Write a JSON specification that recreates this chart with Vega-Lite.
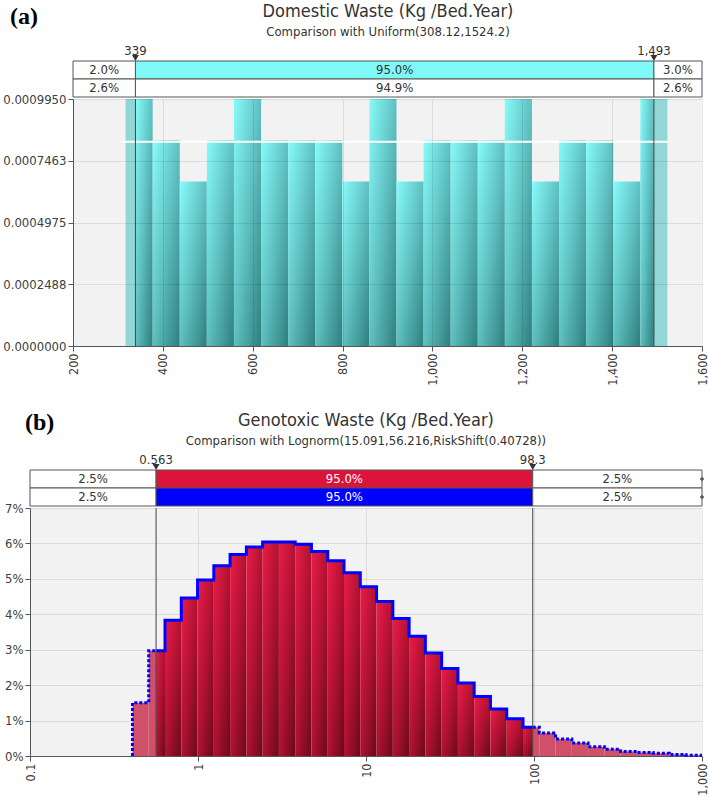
{
 "$schema": "https://vega.github.io/schema/vega-lite/v6.json",
 "background": "white",
 "padding": {"left": 2, "top": 3, "right": 0, "bottom": 0},
 "config": {
  "font": "DejaVu Sans Condensed",
  "view": {"stroke": null, "fill": null},
  "axis": {"labelColor": "#404040", "labelFontSize": 13, "labelFont": "DejaVu Sans Condensed", "domainColor": "#555555", "tickColor": "#555555", "gridColor": "#000000", "gridOpacity": 0.09, "tickSize": 5, "labelPadding": 2},
  "axisX": {"labelFontSize": 12.5},
  "title": {"font": "DejaVu Sans Condensed", "subtitleFont": "DejaVu Sans Condensed", "color": "#333333", "subtitleColor": "#333333", "fontWeight": "normal", "fontSize": 18, "subtitleFontSize": 13, "subtitlePadding": 5}
 },
 "datasets": {
  "bandA": [
   {"row": "r1", "x0": 200, "x1": 339, "xm": 269.5, "label": "2.0%", "cat": "w"},
   {"row": "r1", "x0": 339, "x1": 1493, "xm": 916, "label": "95.0%", "cat": "c"},
   {"row": "r1", "x0": 1493, "x1": 1600, "xm": 1546.5, "label": "3.0%", "cat": "w"},
   {"row": "r2", "x0": 200, "x1": 339, "xm": 269.5, "label": "2.6%", "cat": "w"},
   {"row": "r2", "x0": 339, "x1": 1493, "xm": 916, "label": "94.9%", "cat": "w"},
   {"row": "r2", "x0": 1493, "x1": 1600, "xm": 1546.5, "label": "2.6%", "cat": "w"}
  ],
  "markA": [{"x0": 339, "d": 0.000995, "lab": "339"}, {"x0": 1493, "d": 0.000995, "lab": "1,493"}],
  "histA": [
   {"x0": 317, "x1": 339, "d": 0.000995, "h": true},
   {"x0": 339, "x1": 377.3, "d": 0.000995},
   {"x0": 377.3, "x1": 437.6, "d": 0.000829},
   {"x0": 437.6, "x1": 497.9, "d": 0.000663},
   {"x0": 497.9, "x1": 558.2, "d": 0.000829},
   {"x0": 558.2, "x1": 618.5, "d": 0.000995},
   {"x0": 618.5, "x1": 678.8, "d": 0.000829},
   {"x0": 678.8, "x1": 739.1, "d": 0.000829},
   {"x0": 739.1, "x1": 799.4, "d": 0.000829},
   {"x0": 799.4, "x1": 859.7, "d": 0.000663},
   {"x0": 859.7, "x1": 920, "d": 0.000995},
   {"x0": 920, "x1": 980.3, "d": 0.000663},
   {"x0": 980.3, "x1": 1040.6, "d": 0.000829},
   {"x0": 1040.6, "x1": 1100.9, "d": 0.000829},
   {"x0": 1100.9, "x1": 1161.2, "d": 0.000829},
   {"x0": 1161.2, "x1": 1221.5, "d": 0.000995},
   {"x0": 1221.5, "x1": 1281.8, "d": 0.000663},
   {"x0": 1281.8, "x1": 1342.1, "d": 0.000829},
   {"x0": 1342.1, "x1": 1402.4, "d": 0.000829},
   {"x0": 1402.4, "x1": 1462.7, "d": 0.000663},
   {"x0": 1462.7, "x1": 1493, "d": 0.000995},
   {"x0": 1493, "x1": 1523, "d": 0.000995, "h": true}
  ],
  "bandB": [
   {"row": "r1", "x0": 0.1, "x1": 0.563, "xm": 0.2373, "label": "2.5%", "cat": "w"},
   {"row": "r1", "x0": 0.563, "x1": 98.3, "xm": 7.439, "label": "95.0%", "cat": "r"},
   {"row": "r1", "x0": 98.3, "x1": 1000, "xm": 313.5, "label": "2.5%", "cat": "w"},
   {"row": "r2", "x0": 0.1, "x1": 0.563, "xm": 0.2373, "label": "2.5%", "cat": "w"},
   {"row": "r2", "x0": 0.563, "x1": 98.3, "xm": 7.439, "label": "95.0%", "cat": "b"},
   {"row": "r2", "x0": 98.3, "x1": 1000, "xm": 313.5, "label": "2.5%", "cat": "w"}
  ],
  "markB": [{"x0": 0.563, "p": 7, "lab": "0.563"}, {"x0": 98.3, "p": 7, "lab": "98.3"}],
  "histB": [
   {"x0": 0.4073, "x1": 0.5089, "p": 1.50, "h": true},
   {"x0": 0.5089, "x1": 0.563, "p": 2.97, "h": true},
   {"x0": 0.563, "x1": 0.6362, "p": 2.97},
   {"x0": 0.6362, "x1": 0.7953, "p": 3.83},
   {"x0": 0.7953, "x1": 0.9939, "p": 4.46},
   {"x0": 0.9939, "x1": 1.2423, "p": 4.97},
   {"x0": 1.2423, "x1": 1.5526, "p": 5.37},
   {"x0": 1.5526, "x1": 1.9411, "p": 5.69},
   {"x0": 1.9411, "x1": 2.4253, "p": 5.90},
   {"x0": 2.4253, "x1": 3.0314, "p": 6.04},
   {"x0": 3.0314, "x1": 3.7888, "p": 6.04},
   {"x0": 3.7888, "x1": 4.7354, "p": 5.98},
   {"x0": 4.7354, "x1": 5.9186, "p": 5.77},
   {"x0": 5.9186, "x1": 7.3974, "p": 5.51},
   {"x0": 7.3974, "x1": 9.2458, "p": 5.17},
   {"x0": 9.2458, "x1": 11.556, "p": 4.78},
   {"x0": 11.556, "x1": 14.443, "p": 4.36},
   {"x0": 14.443, "x1": 18.052, "p": 3.88},
   {"x0": 18.052, "x1": 22.561, "p": 3.38},
   {"x0": 22.561, "x1": 28.199, "p": 2.91},
   {"x0": 28.199, "x1": 35.245, "p": 2.47},
   {"x0": 35.245, "x1": 44.052, "p": 2.06},
   {"x0": 44.052, "x1": 55.058, "p": 1.68},
   {"x0": 55.058, "x1": 68.814, "p": 1.33},
   {"x0": 68.814, "x1": 86.008, "p": 1.05},
   {"x0": 86.008, "x1": 98.3, "p": 0.81},
   {"x0": 98.3, "x1": 107.5, "p": 0.81, "h": true},
   {"x0": 107.5, "x1": 134.36, "p": 0.65, "h": true},
   {"x0": 134.36, "x1": 167.93, "p": 0.48, "h": true},
   {"x0": 167.93, "x1": 209.88, "p": 0.37, "h": true},
   {"x0": 209.88, "x1": 262.32, "p": 0.26, "h": true},
   {"x0": 262.32, "x1": 327.87, "p": 0.19, "h": true},
   {"x0": 327.87, "x1": 409.79, "p": 0.13, "h": true},
   {"x0": 409.79, "x1": 512.18, "p": 0.10, "h": true},
   {"x0": 512.18, "x1": 640.15, "p": 0.08, "h": true},
   {"x0": 640.15, "x1": 800.09, "p": 0.04, "h": true},
   {"x0": 800.09, "x1": 1000, "p": 0.02, "h": true}
  ],
  "lineB": [
   {"i": 0, "x0": 0.4073, "p": 0, "seg": "h1"},
   {"i": 1, "x0": 0.4073, "p": 1.50, "seg": "h1"},
   {"i": 2, "x0": 0.5089, "p": 2.97, "seg": "h1"},
   {"i": 3, "x0": 0.563, "p": 2.97, "seg": "h1"},
   {"i": 4, "x0": 0.563, "p": 2.97, "seg": "s"},
   {"i": 5, "x0": 0.6362, "p": 3.83, "seg": "s"},
   {"i": 6, "x0": 0.7953, "p": 4.46, "seg": "s"},
   {"i": 7, "x0": 0.9939, "p": 4.97, "seg": "s"},
   {"i": 8, "x0": 1.2423, "p": 5.37, "seg": "s"},
   {"i": 9, "x0": 1.5526, "p": 5.69, "seg": "s"},
   {"i": 10, "x0": 1.9411, "p": 5.90, "seg": "s"},
   {"i": 11, "x0": 2.4253, "p": 6.04, "seg": "s"},
   {"i": 12, "x0": 3.0314, "p": 6.04, "seg": "s"},
   {"i": 13, "x0": 3.7888, "p": 5.98, "seg": "s"},
   {"i": 14, "x0": 4.7354, "p": 5.77, "seg": "s"},
   {"i": 15, "x0": 5.9186, "p": 5.51, "seg": "s"},
   {"i": 16, "x0": 7.3974, "p": 5.17, "seg": "s"},
   {"i": 17, "x0": 9.2458, "p": 4.78, "seg": "s"},
   {"i": 18, "x0": 11.556, "p": 4.36, "seg": "s"},
   {"i": 19, "x0": 14.443, "p": 3.88, "seg": "s"},
   {"i": 20, "x0": 18.052, "p": 3.38, "seg": "s"},
   {"i": 21, "x0": 22.561, "p": 2.91, "seg": "s"},
   {"i": 22, "x0": 28.199, "p": 2.47, "seg": "s"},
   {"i": 23, "x0": 35.245, "p": 2.06, "seg": "s"},
   {"i": 24, "x0": 44.052, "p": 1.68, "seg": "s"},
   {"i": 25, "x0": 55.058, "p": 1.33, "seg": "s"},
   {"i": 26, "x0": 68.814, "p": 1.05, "seg": "s"},
   {"i": 27, "x0": 86.008, "p": 0.81, "seg": "s"},
   {"i": 28, "x0": 98.3, "p": 0.81, "seg": "s"},
   {"i": 29, "x0": 98.3, "p": 0.81, "seg": "h2"},
   {"i": 30, "x0": 107.5, "p": 0.65, "seg": "h2"},
   {"i": 31, "x0": 134.36, "p": 0.48, "seg": "h2"},
   {"i": 32, "x0": 167.93, "p": 0.37, "seg": "h2"},
   {"i": 33, "x0": 209.88, "p": 0.26, "seg": "h2"},
   {"i": 34, "x0": 262.32, "p": 0.19, "seg": "h2"},
   {"i": 35, "x0": 327.87, "p": 0.13, "seg": "h2"},
   {"i": 36, "x0": 409.79, "p": 0.10, "seg": "h2"},
   {"i": 37, "x0": 512.18, "p": 0.08, "seg": "h2"},
   {"i": 38, "x0": 640.15, "p": 0.04, "seg": "h2"},
   {"i": 39, "x0": 800.09, "p": 0.02, "seg": "h2"},
   {"i": 40, "x0": 1000, "p": 0.02, "seg": "h2"}
  ]
 },
 "spacing": 25,
 "vconcat": [
  {
   "title": {"text": "(a)", "anchor": "start", "frame": "group", "font": "Liberation Serif", "fontWeight": "bold", "fontSize": 24, "color": "#000000", "offset": -26, "dx": -20},
   "spacing": 2,
   "bounds": "flush",
   "vconcat": [
    {
     "width": 672, "height": 54,
     "title": {"text": "Domestic Waste (Kg /Bed.Year)", "subtitle": "Comparison with Uniform(308.12,1524.2)", "anchor": "middle", "frame": "group", "dx": 22, "offset": 4},
     "encoding": {
      "x": {"field": "x0", "type": "quantitative", "scale": {"domain": [200, 1600], "range": [43, 672], "nice": false, "zero": false}, "axis": null}
     },
     "layer": [
      {"data": {"name": "bandA"}, "mark": {"type": "rect", "stroke": "#555555", "strokeWidth": 1},
       "encoding": {
        "x2": {"field": "x1"},
        "y": {"field": "row", "type": "nominal", "scale": {"type": "band", "domain": ["m", "r1", "r2"], "paddingInner": 0, "paddingOuter": 0}, "axis": null},
        "fill": {"field": "cat", "type": "nominal", "scale": {"domain": ["w", "c", "r", "b"], "range": ["#ffffff", "#80f8f8", "#dc143c", "#0000ff"]}, "legend": null}
       }},
      {"data": {"name": "bandA"}, "mark": {"type": "text", "fontSize": 13, "baseline": "middle"},
       "encoding": {
        "x": {"field": "xm", "type": "quantitative", "axis": null},
        "y": {"field": "row", "type": "nominal", "axis": null},
        "text": {"field": "label"},
        "color": {"field": "cat", "type": "nominal", "scale": {"domain": ["w", "c", "r", "b"], "range": ["#333333", "#333333", "#ffffff", "#ffffff"]}, "legend": null}
       }},
      {"data": {"name": "markA"}, "mark": {"type": "point", "shape": "triangle-down", "filled": true, "size": 48, "color": "#333333", "opacity": 1, "yOffset": 6},
       "encoding": {
        "y": {"datum": "m", "type": "nominal", "axis": null}
       }},
      {"data": {"name": "markA"}, "mark": {"type": "text", "fontSize": 13, "baseline": "middle", "color": "#333333", "yOffset": -1},
       "encoding": {
        "y": {"datum": "m", "type": "nominal", "axis": null},
        "text": {"field": "lab"}
       }}
     ]
    },
    {
     "width": 672, "height": 247,
     "encoding": {
      "x": {"field": "x0", "type": "quantitative", "scale": {"domain": [200, 1600], "range": [43, 672], "nice": false, "zero": false}, "axis": {"values": [200, 400, 600, 800, 1000, 1200, 1400, 1600], "format": ",d", "labelAngle": -90, "title": null, "grid": true, "zindex": 1}},
      "y": {"field": "d", "type": "quantitative", "scale": {"domain": [0, 0.000995], "nice": false}, "axis": {"values": [0, 0.0002488, 0.0004975, 0.0007463, 0.000995], "format": ".7f", "offset": -43, "title": null, "grid": true, "zindex": 1}}
     },
     "layer": [
      {"data": {"values": [{"x0": 200, "x1": 1600, "d": 0.000995}]}, "mark": {"type": "rect", "fill": "#f2f2f2"},
       "encoding": {"x2": {"field": "x1"}, "y2": {"datum": 0}}},
      {"data": {"name": "histA"}, "transform": [{"filter": "!datum.h"}],
       "mark": {"type": "rect", "fill": {"gradient": "linear", "x1": 0, "y1": 0, "x2": 1, "y2": 1, "stops": [{"offset": 0, "color": "#88fbfb"}, {"offset": 0.5, "color": "#5fc0c0"}, {"offset": 1, "color": "#2f7e7e"}]}},
       "encoding": {"x2": {"field": "x1"}, "y2": {"datum": 0}}},
      {"data": {"name": "histA"}, "transform": [{"filter": "datum.h"}],
       "mark": {"type": "rect", "fill": "#92d6d6"},
       "encoding": {"x2": {"field": "x1"}, "y2": {"datum": 0}}},
      {"data": {"values": [{"x0": 308.12, "x1": 1524.2, "d": 0.0008223}]}, "mark": {"type": "rule", "color": "#ffffff", "strokeWidth": 2},
       "encoding": {"x2": {"field": "x1"}}},
      {"data": {"name": "markA"}, "mark": {"type": "rule", "color": "#444444", "strokeWidth": 1},
       "encoding": {"y2": {"datum": 0}}}
     ]
    }
   ]
  },
  {
   "title": {"text": "(b)", "anchor": "start", "frame": "group", "font": "Liberation Serif", "fontWeight": "bold", "fontSize": 24, "color": "#000000", "offset": -23, "dx": -5},
   "spacing": 2,
   "bounds": "flush",
   "vconcat": [
    {
     "width": 672, "height": 54,
     "title": {"text": "Genotoxic Waste (Kg /Bed.Year)", "subtitle": "Comparison with Lognorm(15.091,56.216,RiskShift(0.40728))", "anchor": "middle", "frame": "group", "offset": 4},
     "encoding": {
      "x": {"field": "x0", "type": "quantitative", "scale": {"type": "log", "domain": [0.1, 1000], "nice": false}, "axis": null}
     },
     "layer": [
      {"data": {"name": "bandB"}, "mark": {"type": "rect", "stroke": "#555555", "strokeWidth": 1},
       "encoding": {
        "x2": {"field": "x1"},
        "y": {"field": "row", "type": "nominal", "scale": {"type": "band", "domain": ["m", "r1", "r2"], "paddingInner": 0, "paddingOuter": 0}, "axis": null},
        "fill": {"field": "cat", "type": "nominal", "scale": {"domain": ["w", "c", "r", "b"], "range": ["#ffffff", "#80f8f8", "#dc143c", "#0000ff"]}, "legend": null}
       }},
      {"data": {"name": "bandB"}, "mark": {"type": "text", "fontSize": 13, "baseline": "middle"},
       "encoding": {
        "x": {"field": "xm", "type": "quantitative", "axis": null},
        "y": {"field": "row", "type": "nominal", "axis": null},
        "text": {"field": "label"},
        "color": {"field": "cat", "type": "nominal", "scale": {"domain": ["w", "c", "r", "b"], "range": ["#333333", "#333333", "#ffffff", "#ffffff"]}, "legend": null}
       }},
      {"data": {"name": "bandB"}, "transform": [{"filter": "datum.x1 == 1000"}], "mark": {"type": "point", "shape": "cross", "filled": true, "size": 16, "color": "#555555", "opacity": 1},
       "encoding": {
        "x": {"field": "x1", "type": "quantitative", "axis": null},
        "y": {"field": "row", "type": "nominal", "axis": null}
       }},
      {"data": {"name": "markB"}, "mark": {"type": "point", "shape": "triangle-down", "filled": true, "size": 48, "color": "#333333", "opacity": 1, "yOffset": 6},
       "encoding": {
        "y": {"datum": "m", "type": "nominal", "axis": null}
       }},
      {"data": {"name": "markB"}, "mark": {"type": "text", "fontSize": 13, "baseline": "middle", "color": "#333333", "yOffset": -1},
       "encoding": {
        "y": {"datum": "m", "type": "nominal", "axis": null},
        "text": {"field": "lab"}
       }}
     ]
    },
    {
     "width": 672, "height": 248,
     "view": {"fill": "#f2f2f2", "stroke": null},
     "encoding": {
      "x": {"field": "x0", "type": "quantitative", "scale": {"type": "log", "domain": [0.1, 1000], "nice": false}, "axis": {"values": [0.1, 1, 10, 100, 1000], "format": ",", "labelAngle": -90, "title": null, "grid": true}},
      "y": {"field": "p", "type": "quantitative", "scale": {"domain": [0, 7], "nice": false}, "axis": {"values": [0, 1, 2, 3, 4, 5, 6, 7], "labelExpr": "datum.value + '%'", "title": null, "grid": true}}
     },
     "layer": [
      {"data": {"name": "histB"}, "transform": [{"filter": "!datum.h"}],
       "mark": {"type": "rect", "fill": {"gradient": "linear", "x1": 0, "y1": 0, "x2": 1, "y2": 1, "stops": [{"offset": 0, "color": "#ec1c48"}, {"offset": 0.5, "color": "#b01232"}, {"offset": 1, "color": "#6a0a1b"}]}},
       "encoding": {"x2": {"field": "x1"}, "y2": {"datum": 0}}},
      {"data": {"name": "histB"}, "transform": [{"filter": "datum.h"}],
       "mark": {"type": "rect", "fill": "#d0506a"},
       "encoding": {"x2": {"field": "x1"}, "y2": {"datum": 0}}},
      {"data": {"name": "lineB"}, "mark": {"type": "line", "interpolate": "step-after", "color": "#0000ff", "strokeWidth": 3},
       "encoding": {
        "order": {"field": "i"},
        "strokeDash": {"field": "seg", "type": "nominal", "scale": {"domain": ["h1", "s", "h2"], "range": [[3, 2], [1, 0], [3, 2]]}, "legend": null}
       }},
      {"data": {"name": "markB"}, "mark": {"type": "rule", "color": "#444444", "strokeWidth": 1},
       "encoding": {"y2": {"datum": 0}}}
     ]
    }
   ]
  }
 ]
}
